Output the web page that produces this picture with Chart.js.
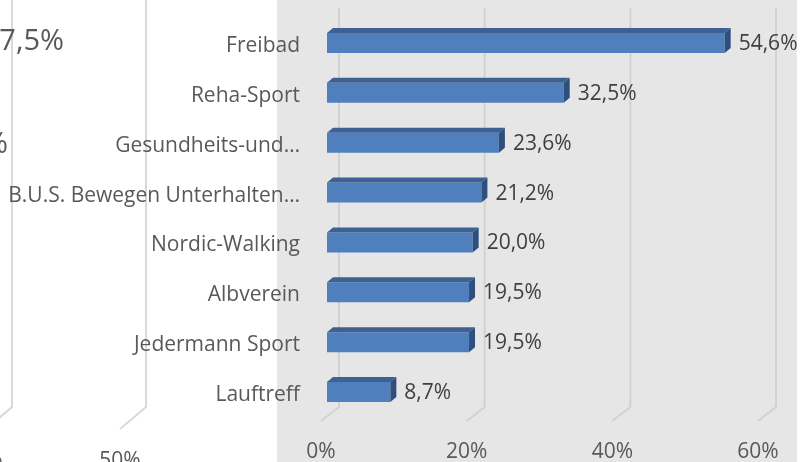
<!DOCTYPE html>
<html lang="de">
<head>
<meta charset="utf-8">
<title>Sportangebote</title>
<script src="https://cdn.jsdelivr.net/npm/chart.js@4.4.1/dist/chart.umd.min.js"></script>
<style>
  body { margin: 0; background: #fff; }
  #wrap { position: relative; width: 808px; height: 462px; overflow: hidden; }
  #panel { position: absolute; left: 277px; top: 0; width: 520px; height: 462px; background: #e6e6e6; }
  #chart { position: absolute; left: 0; top: 0; }
</style>
</head>
<body>
<div id="wrap">
  <div id="panel"></div>
  <canvas id="chart" width="808" height="462"></canvas>
</div>
<script>
"use strict";

const categories = [
  "Freibad",
  "Reha-Sport",
  "Gesundheits-und…",
  "B.U.S. Bewegen Unterhalten…",
  "Nordic-Walking",
  "Albverein",
  "Jedermann Sport",
  "Lauftreff",
];
const shares = [54.6, 32.5, 23.6, 21.2, 20.0, 19.5, 19.5, 8.7];
const axisTicks = [0, 20, 40, 60];

const textGrey = "#595959";
const labelFont = "21px 'Open Sans'";

Chart.defaults.font.family = "'Open Sans', sans-serif";
Chart.defaults.font.size = 21;
Chart.defaults.color = textGrey;

function percent(v) {
  return v.toFixed(1).replace(".", ",") + "%";
}

// bits of the chart next door that show on the white strip
const neighbour = {
  id: "neighbour",
  beforeDraw(chart) {
    const ctx = chart.ctx;
    ctx.save();
    ctx.strokeStyle = "#d9d9d9";
    ctx.lineWidth = 2;
    [12, 146].forEach((x) => {
      ctx.beginPath();
      ctx.moveTo(x, 0);
      ctx.lineTo(x, 407);
      ctx.lineTo(x - 26, 429);
      ctx.stroke();
    });
    ctx.fillStyle = textGrey;
    ctx.textAlign = "right";
    ctx.textBaseline = "alphabetic";
    ctx.font = "29px 'Open Sans'";
    ctx.fillText("7,5%", 64, 50);
    ctx.fillText("%", 8, 153);
    ctx.font = "21px 'Open Sans'";
    ctx.textAlign = "center";
    ctx.fillText("50%", 120, 467);
    ctx.fillText("0%", -12, 467);
    ctx.restore();
  },
};

// gridlines on the back wall with a short foot on the floor
const backWall = {
  id: "backWall",
  beforeDatasetsDraw(chart) {
    const ctx = chart.ctx;
    const xScale = chart.scales.x;
    const bottom = chart.chartArea.bottom;
    ctx.save();
    ctx.strokeStyle = "#d2d2d2";
    ctx.lineWidth = 2;
    axisTicks.forEach((v) => {
      const px = xScale.getPixelForValue(v);
      ctx.beginPath();
      ctx.moveTo(px + 12, 8);
      ctx.lineTo(px + 12, bottom - 10);
      ctx.lineTo(px - 6, bottom + 4);
      ctx.stroke();
    });
    ctx.restore();
  },
};

// top and side faces so the bars look like blocks, plus value labels
const barDepth = {
  id: "barDepth",
  afterDatasetsDraw(chart) {
    const ctx = chart.ctx;
    const dx = 6;
    const dy = 5;
    ctx.save();
    chart.getDatasetMeta(0).data.forEach((bar, i) => {
      const top = bar.y - bar.height / 2;
      const bottom = bar.y + bar.height / 2;

      ctx.fillStyle = "#3d6192";
      ctx.beginPath();
      ctx.moveTo(bar.base, top);
      ctx.lineTo(bar.base + dx, top - dy);
      ctx.lineTo(bar.x + dx, top - dy);
      ctx.lineTo(bar.x, top);
      ctx.closePath();
      ctx.fill();

      ctx.fillStyle = "#2f4f7d";
      ctx.beginPath();
      ctx.moveTo(bar.x, top);
      ctx.lineTo(bar.x + dx, top - dy);
      ctx.lineTo(bar.x + dx, bottom - dy);
      ctx.lineTo(bar.x, bottom);
      ctx.closePath();
      ctx.fill();

      ctx.fillStyle = "#404040";
      ctx.font = labelFont;
      ctx.textAlign = "left";
      ctx.textBaseline = "middle";
      ctx.fillText(percent(shares[i]), bar.x + 14, bar.y + 1);
    });
    ctx.restore();
  },
};

const data = {
  labels: categories,
  datasets: [
    {
      data: shares,
      backgroundColor: "#4f80bd",
      borderWidth: 0,
      categoryPercentage: 0.4,
      barPercentage: 1,
    },
  ],
};

const config = {
  type: "bar",
  data: data,
  options: {
    indexAxis: "y",
    responsive: false,
    animation: false,
    devicePixelRatio: 1,
    layout: { padding: { top: 18, right: 44, bottom: 0, left: 0 } },
    plugins: {
      legend: { display: false },
      tooltip: { enabled: false },
    },
    scales: {
      x: {
        min: 0,
        max: 60,
        afterBuildTicks: (scale) => {
          scale.ticks = axisTicks.map((v) => ({ value: v }));
        },
        afterFit: (scale) => {
          scale.height = 45;
        },
        grid: { display: false, drawTicks: false },
        border: { display: false },
        ticks: {
          padding: 22,
          labelOffset: -6,
          maxRotation: 0,
          callback: (v) => v + "%",
        },
      },
      y: {
        afterFit: (scale) => {
          scale.width = 327;
          scale.paddingTop = 0;
          scale.paddingBottom = 0;
        },
        grid: { display: false, drawTicks: false },
        border: { display: false },
        ticks: { padding: 27, labelOffset: 3, autoSkip: false },
      },
    },
  },
  plugins: [neighbour, backWall, barDepth],
};

const chartCanvas = document.getElementById("chart");
const sportChart = new Chart(chartCanvas, config);
</script>
</body>
</html>
